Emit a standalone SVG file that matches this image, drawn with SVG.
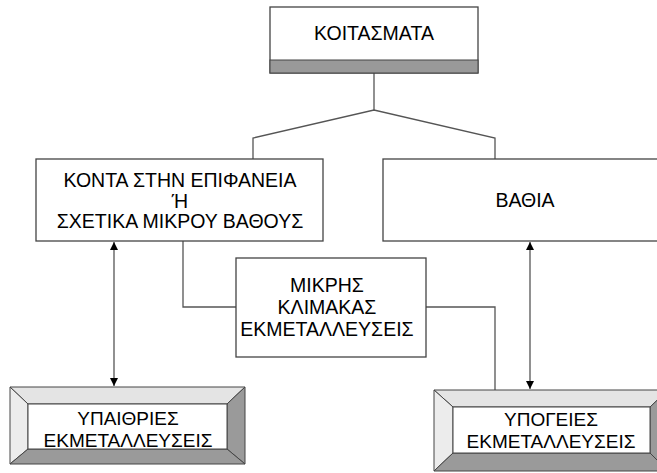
<svg xmlns="http://www.w3.org/2000/svg" width="657" height="473" viewBox="0 0 657 473">
<defs>
<style>
.box{fill:#fff;stroke:#444;stroke-width:1.3}
.t{font-family:"Liberation Sans",Arial,sans-serif;font-size:19.5px;fill:#000;text-anchor:middle}
.s{font-size:19px}
.ln{fill:none;stroke:#555;stroke-width:1.3}
.lt{fill:#e4e4e4;stroke:#444;stroke-width:1}
.dk{fill:#9a9a9a;stroke:#444;stroke-width:1}
</style>
<marker id="ah" viewBox="0 0 10 10" refX="10" refY="5" markerWidth="8" markerHeight="8" markerUnits="userSpaceOnUse" orient="auto-start-reverse">
<path d="M0,0 L10,5 L0,10 z" fill="#000"/>
</marker>
</defs>
<rect width="657" height="473" fill="#fff"/>
<g id="connectors">
<polyline class="ln" points="374,73 374,110"/>
<polyline class="ln" points="253,159 253,138 374,110 495,138 495,159"/>
<polyline class="ln" points="183,241 183,307 236,307"/>
<polyline class="ln" points="426,307 495,307 495,390"/>
<line class="ln" x1="114" y1="242" x2="114" y2="386" marker-start="url(#ah)" marker-end="url(#ah)"/>
<line class="ln" x1="530" y1="242" x2="530" y2="389" marker-start="url(#ah)" marker-end="url(#ah)"/>
</g>
<g id="koitasmata">
<rect class="box" x="270" y="7" width="208" height="66"/>
<rect x="270" y="60" width="208" height="13" fill="#999" stroke="#444" stroke-width="1"/>
<text class="t" x="374" y="40">ΚΟΙΤΑΣΜΑΤΑ</text>
</g>
<g id="konta">
<rect class="box" x="36" y="159" width="287" height="82"/>
<text class="t" x="180" y="187">ΚΟΝΤΑ ΣΤΗΝ ΕΠΙΦΑΝΕΙΑ</text>
<text class="t" x="180" y="208">Ή</text>
<text class="t" x="180" y="228">ΣΧΕΤΙΚΑ ΜΙΚΡΟΥ ΒΑΘΟΥΣ</text>
</g>
<g id="vathia">
<rect class="box" x="383" y="159" width="290" height="82"/>
<text class="t" x="525" y="207">ΒΑΘΙΑ</text>
</g>
<g id="mikris">
<rect class="box" x="236" y="258" width="190" height="99"/>
<text class="t" x="327" y="292">ΜΙΚΡΗΣ</text>
<text class="t" x="327" y="314">ΚΛΙΜΑΚΑΣ</text>
<text class="t" x="327" y="336">ΕΚΜΕΤΑΛΛΕΥΣΕΙΣ</text>
</g>
<g id="ypaithries">
<polygon class="lt" points="10,387 245,387 227,404 28,404"/>
<polygon class="lt" points="10,387 28,404 28,449 10,464" style="fill:#ececec"/>
<polygon class="dk" points="245,387 245,464 227,449 227,404"/>
<polygon class="dk" points="10,464 28,449 227,449 245,464"/>
<rect x="28" y="404" width="199" height="45" fill="#fff" stroke="#444" stroke-width="1"/>
<text class="t s" x="128" y="425">ΥΠΑΙΘΡΙΕΣ</text>
<text class="t s" x="128" y="447">ΕΚΜΕΤΑΛΛΕΥΣΕΙΣ</text>
</g>
<g id="ypogeies">
<polygon class="lt" points="434,390 668,390 650,407 453,407"/>
<polygon class="lt" points="434,390 453,407 453,453 434,471" style="fill:#ececec"/>
<polygon class="dk" points="668,390 668,471 650,453 650,407"/>
<polygon class="dk" points="434,471 453,453 650,453 668,471"/>
<rect x="453" y="407" width="197" height="46" fill="#fff" stroke="#444" stroke-width="1"/>
<text class="t s" x="551" y="426">ΥΠΟΓΕΙΕΣ</text>
<text class="t s" x="551" y="448">ΕΚΜΕΤΑΛΛΕΥΣΕΙΣ</text>
</g>
</svg>
